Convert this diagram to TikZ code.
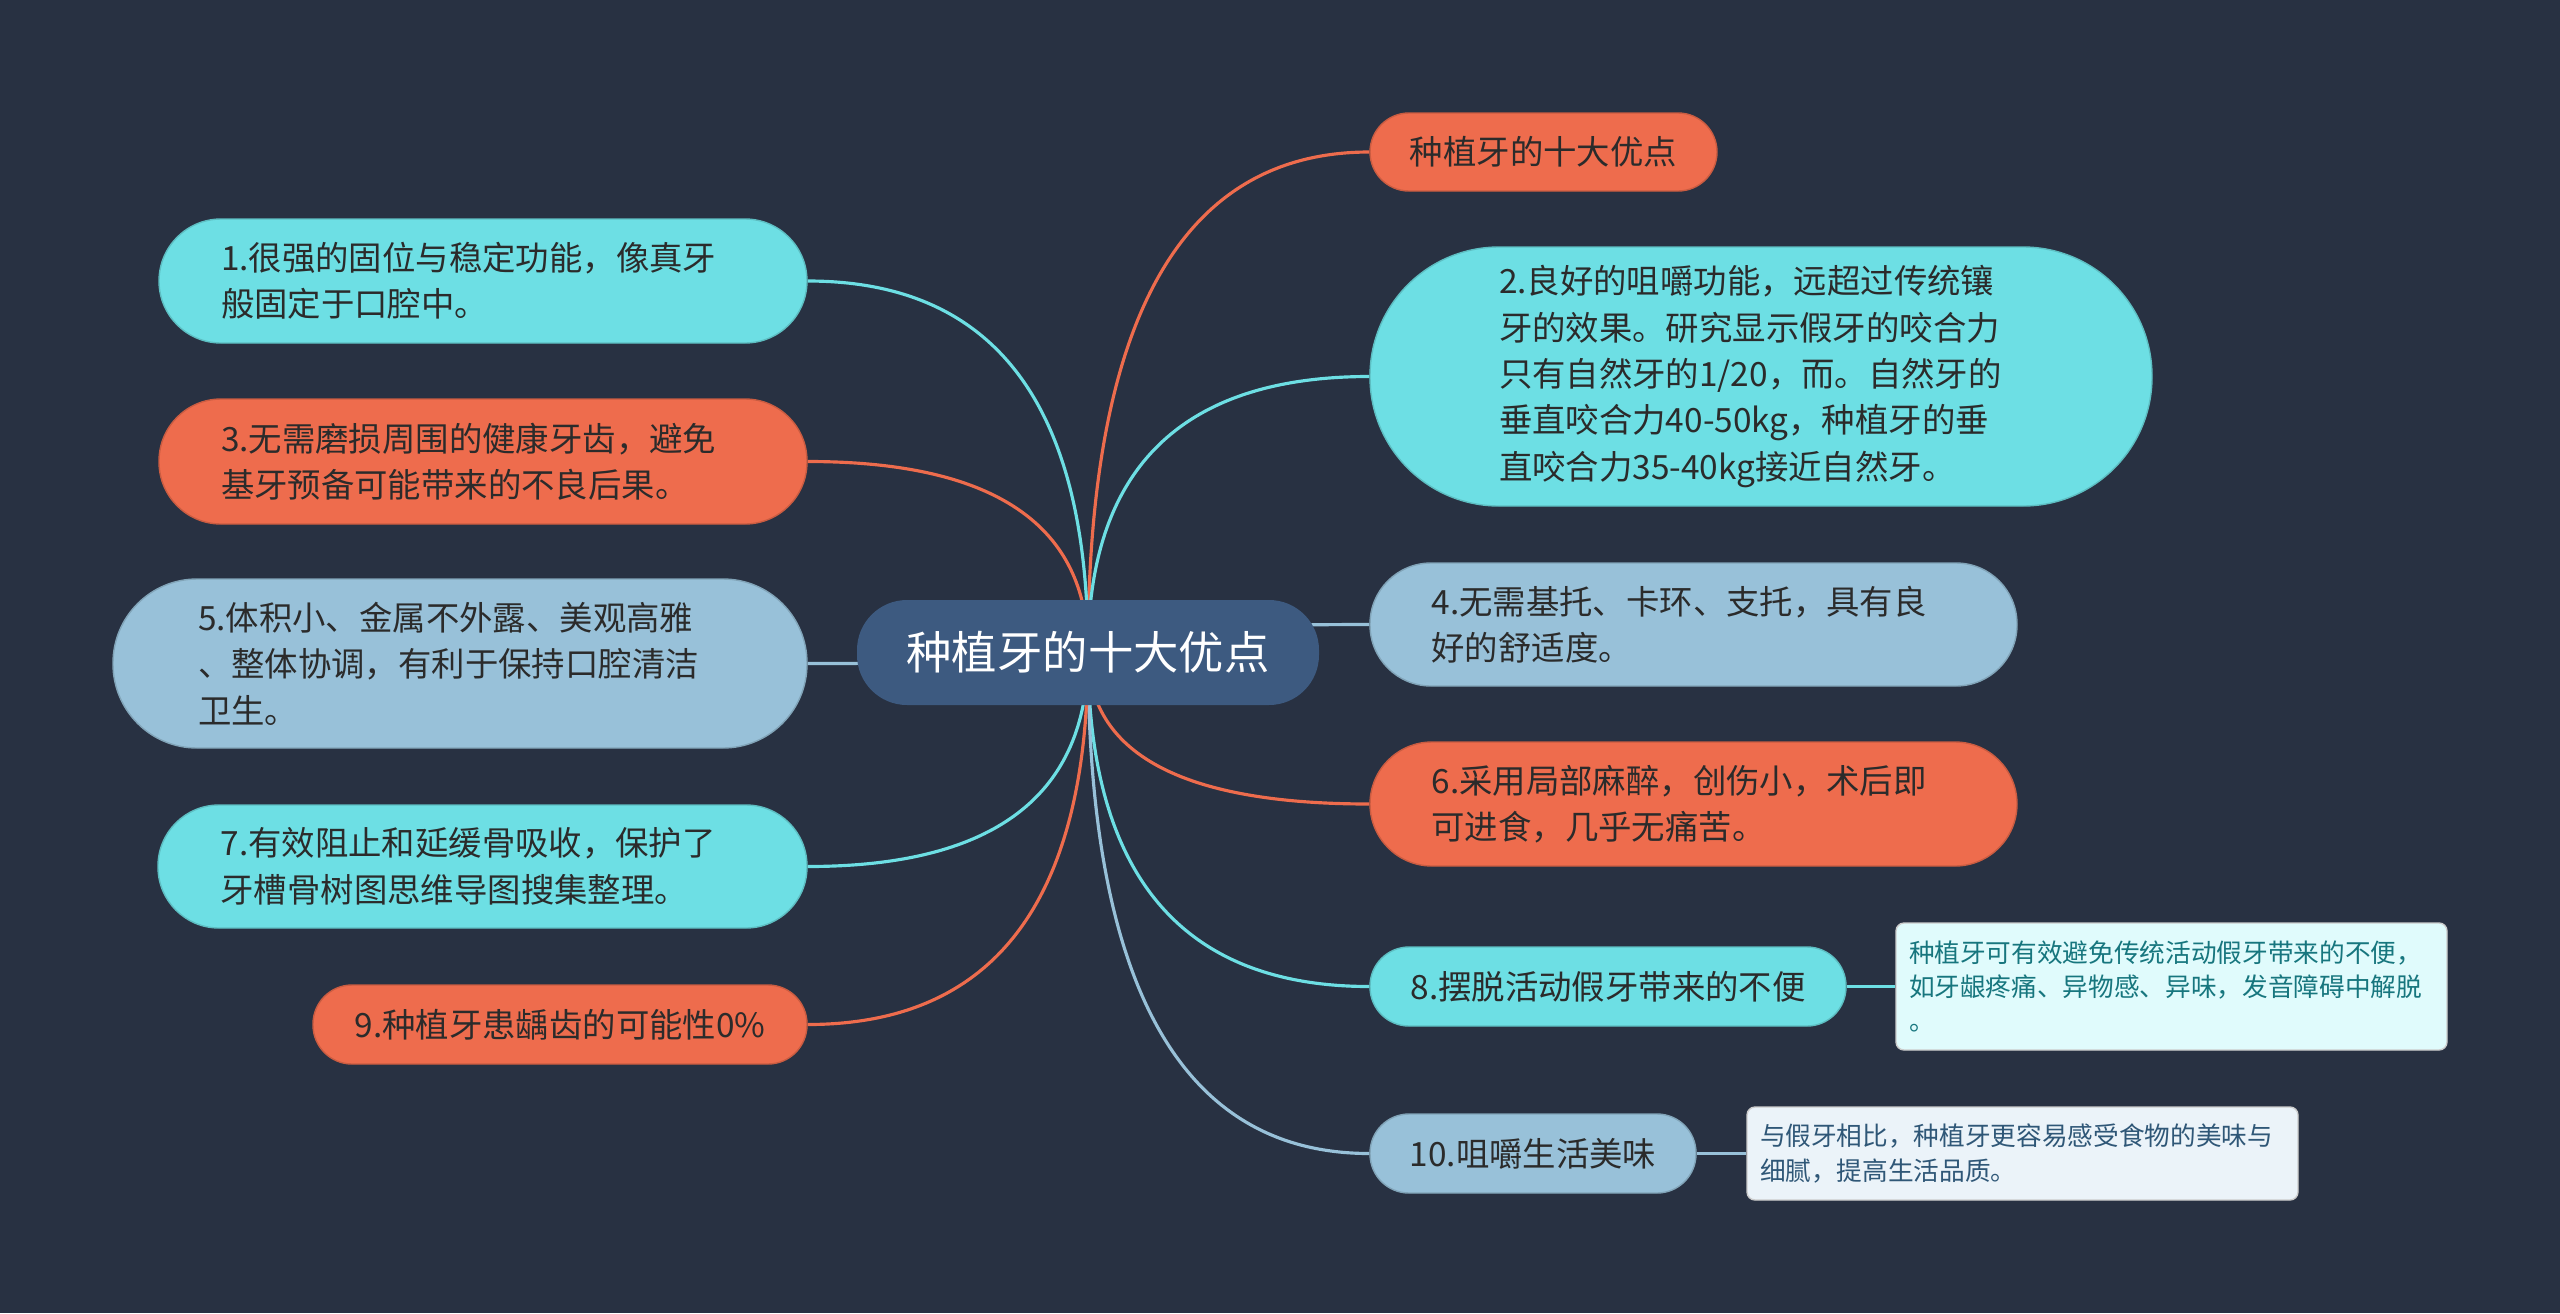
\documentclass[tikz,border=0pt]{standalone}
\usepackage{fontspec}
\setmainfont{Noto Sans CJK SC}
\usetikzlibrary{calc,backgrounds}
\definecolor{mapBack}{HTML}{283142}
\definecolor{mapRoot}{HTML}{3D5A80}
\definecolor{mapOrange}{HTML}{EE6C4D}
\definecolor{mapCyan}{HTML}{6DDFE4}
\definecolor{mapSky}{HTML}{98C1D9}
\definecolor{mapInk}{HTML}{2B2B2B}
\definecolor{noteCyan}{HTML}{E0FBFC}
\definecolor{noteSky}{HTML}{EBF3F9}
\definecolor{noteTeal}{HTML}{17767E}
\definecolor{noteSlate}{HTML}{2F5777}
\tikzset{
  map root/.style={fill=mapRoot, text=white, font=\fontsize{12.9pt}{15pt}\selectfont, minimum width=4.62cm, minimum height=1.05cm, rounded corners=0.5cm, inner sep=0pt},
  map pill/.style={fill=#1, draw=#1!85!black, line width=0.4pt, text=mapInk, font=\fontsize{9.5pt}{13.2pt}\selectfont, align=left, inner sep=0pt},
  map wide/.style={text width=5.24cm},
  map note/.style={fill=#1, draw=black!20, line width=0.4pt, rounded corners=0.08cm, font=\fontsize{7.3pt}{9.7pt}\selectfont, align=left, text width=5.25cm, minimum width=5.51cm, inner sep=0pt},
  map link/.style={draw=#1, line width=0.9pt},
}
% curved branch from the hub to a child
\newcommand\maplink[3]{%
  \draw[map link=#1] (#2) .. controls ($(#2)!0.667!(#2 |- #3)$) and ($(#3)!0.667!(#2 |- #3)$) .. (#3);}

\begin{document}
\begin{tikzpicture}
  \useasboundingbox (0,0) rectangle (25.6,-13.13);
  % central topic
  \node[map root] (hub) at (10.88,-6.525) {种植牙的十大优点};
  % right branches
  \node[map pill=mapOrange, minimum width=3.47cm, minimum height=0.78cm, rounded corners=0.39cm] (top) at (15.435,-1.52) {种植牙的十大优点};
  \node[map pill=mapCyan, map wide, minimum width=7.82cm, minimum height=2.59cm, rounded corners=1.29cm] (b2) at (17.61,-3.765) {2.良好的咀嚼功能，远超过传统镶\\牙的效果。研究显示假牙的咬合力\\只有自然牙的1/20，而。自然牙的\\垂直咬合力40-50kg，种植牙的垂\\直咬合力35-40kg接近自然牙。};
  \node[map pill=mapSky, map wide, minimum width=6.47cm, minimum height=1.23cm, rounded corners=0.61cm] (b4) at (16.935,-6.245) {4.无需基托、卡环、支托，具有良\\好的舒适度。};
  \node[map pill=mapOrange, map wide, minimum width=6.47cm, minimum height=1.24cm, rounded corners=0.62cm] (b6) at (16.935,-8.04) {6.采用局部麻醉，创伤小，术后即\\可进食，几乎无痛苦。};
  \node[map pill=mapCyan, minimum width=4.76cm, minimum height=0.79cm, rounded corners=0.39cm] (b8) at (16.08,-9.865) {8.摆脱活动假牙带来的不便};
  \node[map pill=mapSky, minimum width=3.26cm, minimum height=0.79cm, rounded corners=0.39cm] (b10) at (15.33,-11.535) {10.咀嚼生活美味};
  % notes
  \node[map note=noteCyan, text=noteTeal, minimum height=1.27cm] (n8) at (21.715,-9.865) {种植牙可有效避免传统活动假牙带来的不便，\\如牙龈疼痛、异物感、异味，发音障碍中解脱\\。};
  \node[map note=noteSky, text=noteSlate, minimum height=0.93cm] (n10) at (20.225,-11.535) {与假牙相比，种植牙更容易感受食物的美味与\\细腻，提高生活品质。};
  % left branches
  \node[map pill=mapCyan, map wide, minimum width=6.48cm, minimum height=1.24cm, rounded corners=0.62cm] (b1) at (4.83,-2.81) {1.很强的固位与稳定功能，像真牙\\般固定于口腔中。};
  \node[map pill=mapOrange, map wide, minimum width=6.48cm, minimum height=1.25cm, rounded corners=0.62cm] (b3) at (4.83,-4.615) {3.无需磨损周围的健康牙齿，避免\\基牙预备可能带来的不良后果。};
  \node[map pill=mapSky, map wide, minimum width=6.94cm, minimum height=1.69cm, rounded corners=0.84cm] (b5) at (4.60,-6.635) {5.体积小、金属不外露、美观高雅\\、整体协调，有利于保持口腔清洁\\卫生。};
  \node[map pill=mapCyan, map wide, minimum width=6.49cm, minimum height=1.23cm, rounded corners=0.61cm] (b7) at (4.825,-8.665) {7.有效阻止和延缓骨吸收，保护了\\牙槽骨树图思维导图搜集整理。};
  \node[map pill=mapOrange, minimum width=4.94cm, minimum height=0.79cm, rounded corners=0.39cm] (b9) at (5.60,-10.245) {9.种植牙患龋齿的可能性0\%};
  % connectors behind the nodes
  \begin{scope}[on background layer]
    \fill[mapBack] (0,0) rectangle (25.6,-13.13);
    \maplink{mapOrange}{hub.center}{top.west}
    \maplink{mapCyan}{hub.center}{b2.west}
    \maplink{mapSky}{hub.center}{b4.west}
    \maplink{mapOrange}{hub.center}{b6.west}
    \maplink{mapCyan}{hub.center}{b8.west}
    \maplink{mapSky}{hub.center}{b10.west}
    \maplink{mapCyan}{hub.center}{b1.east}
    \maplink{mapOrange}{hub.center}{b3.east}
    \maplink{mapSky}{hub.center}{b5.east}
    \maplink{mapCyan}{hub.center}{b7.east}
    \maplink{mapOrange}{hub.center}{b9.east}
    \draw[map link=mapCyan] (b8) -- (n8);
    \draw[map link=mapSky] (b10) -- (n10);
  \end{scope}
\end{tikzpicture}
\end{document}
